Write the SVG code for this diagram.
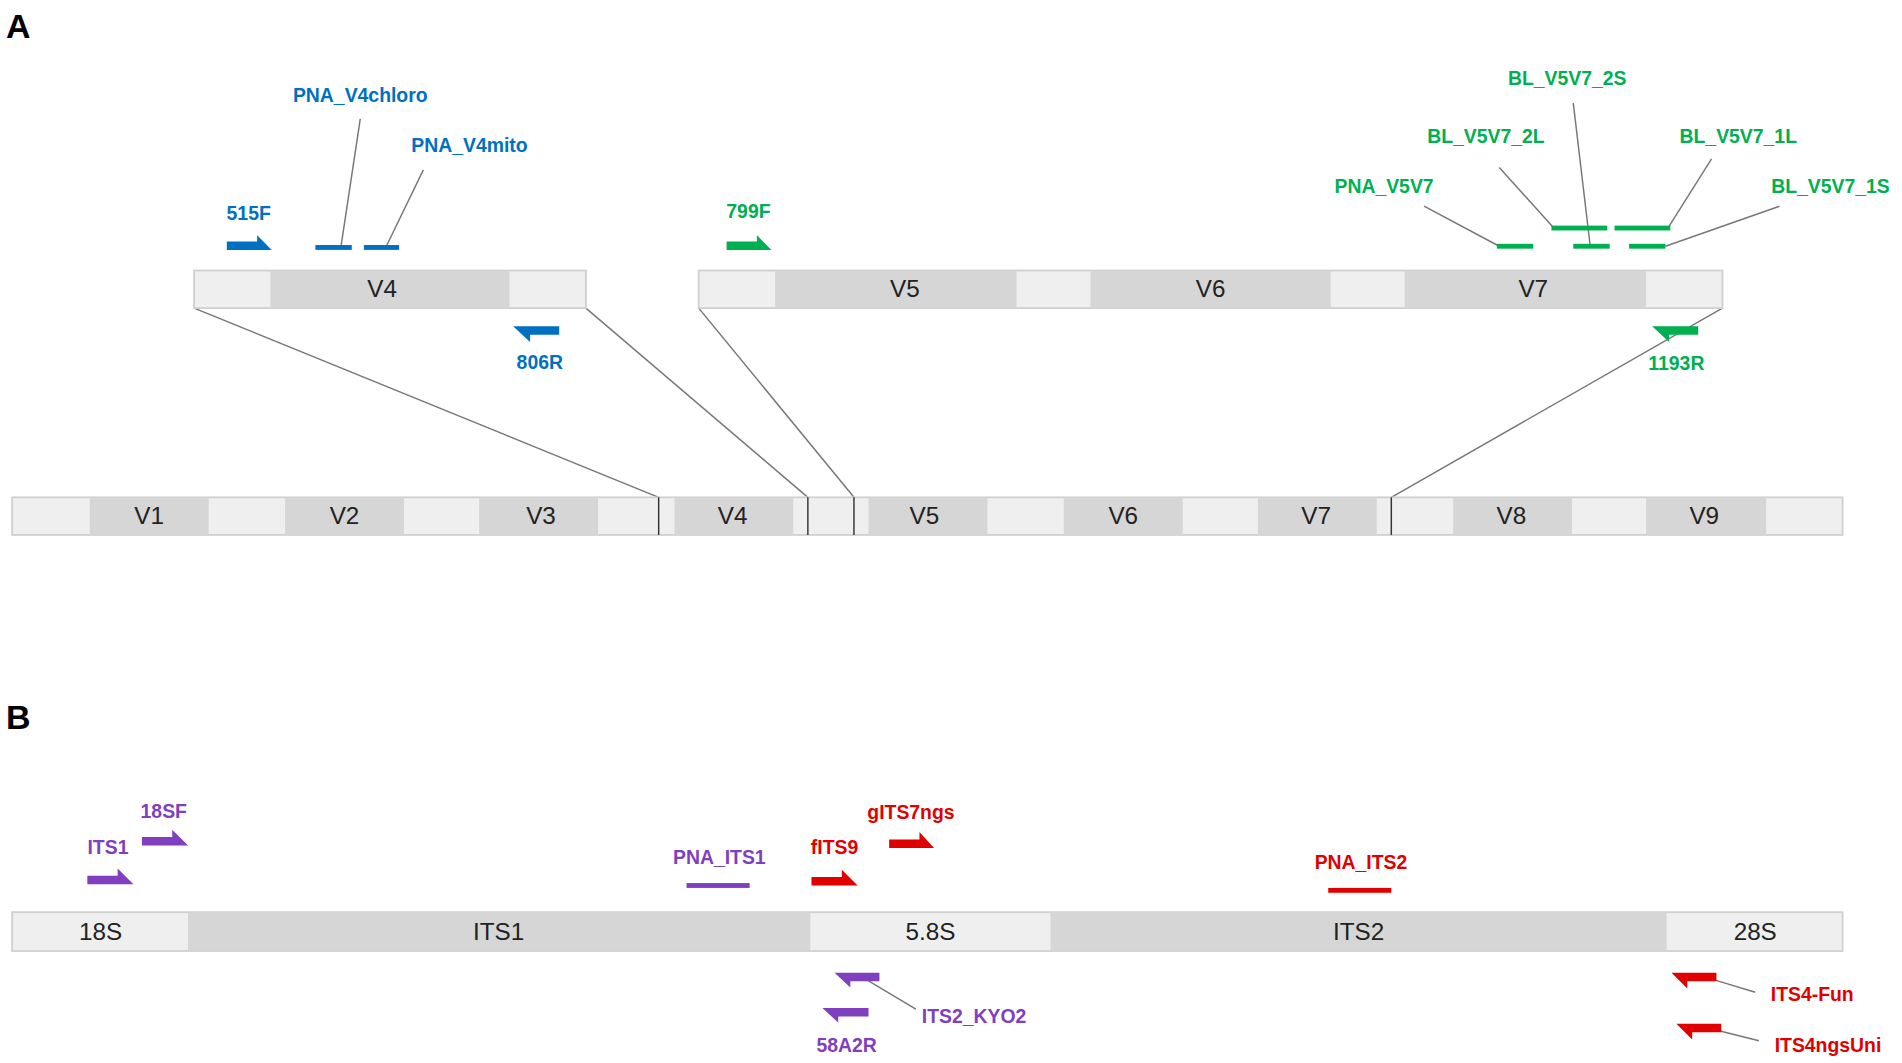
<svg xmlns="http://www.w3.org/2000/svg" width="1902" height="1063" viewBox="0 0 1902 1063">
<style>
.lt{fill:#efefef;stroke:#d0d0d0;stroke-width:1.5}
.dk{fill:#d6d6d6}
.rl{font-family:"Liberation Sans",Arial,sans-serif;font-size:20px;fill:#222;text-anchor:middle}
.pl{font-family:"Liberation Sans",Arial,sans-serif;font-size:16px;font-weight:bold;text-anchor:middle}
.ln{stroke:#777;stroke-width:1.2;fill:none}
.bk{stroke:#333;stroke-width:1.2}
.b{fill:#0070c0}.g{fill:#00b050}.p{fill:#7f3fbf}.r{fill:#e00000}
</style>
<rect width="1902" height="1063" fill="#fff"/>
<g transform="scale(1.21301)">
<text x="5" y="31" font-family="Liberation Sans,Arial,sans-serif" font-size="28" font-weight="bold">A</text>
<text x="5" y="601" font-family="Liberation Sans,Arial,sans-serif" font-size="28" font-weight="bold">B</text>
<g id="connectors">
<line class="ln" x1="160" y1="254" x2="543" y2="410"/>
<line class="ln" x1="483" y1="254" x2="666" y2="410"/>
<line class="ln" x1="576" y1="254" x2="704" y2="410"/>
<line class="ln" x1="1420" y1="254" x2="1147" y2="410"/>
<line class="ln" x1="281" y1="204" x2="297" y2="98"/>
<line class="ln" x1="318" y1="204" x2="349" y2="140"/>
<line class="ln" x1="1236" y1="203" x2="1174" y2="170"/>
<line class="ln" x1="1281" y1="188" x2="1236" y2="138"/>
<line class="ln" x1="1311" y1="203" x2="1297" y2="85"/>
<line class="ln" x1="1375" y1="188" x2="1411" y2="131"/>
<line class="ln" x1="1373" y1="203" x2="1467" y2="170"/>
<line class="ln" x1="715" y1="808" x2="755" y2="832"/>
<line class="ln" x1="1414" y1="808" x2="1447" y2="818"/>
<line class="ln" x1="1418" y1="850" x2="1450" y2="858"/>
</g>
<g id="zoomV4">
<rect class="lt" x="160" y="223" width="323" height="31"/>
<rect class="dk" x="223" y="223" width="197" height="31"/>
<text class="rl" x="315" y="245">V4</text>
</g>
<g id="zoomV5V7">
<rect class="lt" x="576" y="223" width="844" height="31"/>
<rect class="dk" x="639" y="223" width="199" height="31"/>
<rect class="dk" x="899" y="223" width="198" height="31"/>
<rect class="dk" x="1158" y="223" width="199" height="31"/>
<text class="rl" x="746" y="245">V5</text>
<text class="rl" x="998" y="245">V6</text>
<text class="rl" x="1264" y="245">V7</text>
</g>
<g id="rRNA16S">
<rect class="lt" x="10" y="410" width="1509" height="31"/>
<rect class="dk" x="74" y="410" width="98" height="31"/>
<rect class="dk" x="235" y="410" width="98" height="31"/>
<rect class="dk" x="395" y="410" width="98" height="31"/>
<rect class="dk" x="556" y="410" width="98" height="31"/>
<rect class="dk" x="716" y="410" width="98" height="31"/>
<rect class="dk" x="877" y="410" width="98" height="31"/>
<rect class="dk" x="1037" y="410" width="98" height="31"/>
<rect class="dk" x="1198" y="410" width="98" height="31"/>
<rect class="dk" x="1357" y="410" width="99" height="31"/>
<line class="bk" x1="543" y1="410" x2="543" y2="441"/>
<line class="bk" x1="666" y1="410" x2="666" y2="441"/>
<line class="bk" x1="704" y1="410" x2="704" y2="441"/>
<line class="bk" x1="1147" y1="410" x2="1147" y2="441"/>
<text class="rl" x="123" y="432">V1</text>
<text class="rl" x="284" y="432">V2</text>
<text class="rl" x="446" y="432">V3</text>
<text class="rl" x="604" y="432">V4</text>
<text class="rl" x="762" y="432">V5</text>
<text class="rl" x="926" y="432">V6</text>
<text class="rl" x="1085" y="432">V7</text>
<text class="rl" x="1246" y="432">V8</text>
<text class="rl" x="1405" y="432">V9</text>
</g>
<g id="primersA">
<polygon class="b" points="187,199 212,199 212,194 224,206 187,206"/>
<text class="pl b" x="205" y="181">515F</text>
<rect class="b" x="260" y="202" width="30" height="4"/>
<text class="pl b" x="297" y="84">PNA_V4chloro</text>
<rect class="b" x="300" y="202" width="29" height="4"/>
<text class="pl b" x="387" y="125">PNA_V4mito</text>
<polygon class="b" points="461,269 423,269 437,282 437,276 461,276"/>
<text class="pl b" x="445" y="304">806R</text>
<polygon class="g" points="599,199 624,199 624,194 636,206 599,206"/>
<text class="pl g" x="617" y="180">799F</text>
<rect class="g" x="1234" y="201" width="30" height="4"/>
<text class="pl g" x="1141" y="159">PNA_V5V7</text>
<rect class="g" x="1279" y="186" width="46" height="4"/>
<text class="pl g" x="1225" y="118">BL_V5V7_2L</text>
<rect class="g" x="1297" y="201" width="30" height="4"/>
<text class="pl g" x="1292" y="70">BL_V5V7_2S</text>
<rect class="g" x="1331" y="186" width="46" height="4"/>
<text class="pl g" x="1433" y="118">BL_V5V7_1L</text>
<rect class="g" x="1343" y="201" width="30" height="4"/>
<text class="pl g" x="1509" y="159">BL_V5V7_1S</text>
<polygon class="g" points="1400,269 1362,269 1376,282 1376,276 1400,276"/>
<text class="pl g" x="1382" y="305">1193R</text>
</g>
<g id="rDNA">
<rect class="lt" x="10" y="752" width="1509" height="32"/>
<rect class="dk" x="155" y="752" width="513" height="32"/>
<rect class="dk" x="866" y="752" width="508" height="32"/>
<text class="rl" x="83" y="775">18S</text>
<text class="rl" x="411" y="775">ITS1</text>
<text class="rl" x="767" y="775">5.8S</text>
<text class="rl" x="1120" y="775">ITS2</text>
<text class="rl" x="1447" y="775">28S</text>
</g>
<g id="primersB">
<polygon class="p" points="72,722 97,722 97,716 110,729 72,729"/>
<text class="pl p" x="89" y="704">ITS1</text>
<polygon class="p" points="117,690 142,690 142,684 155,697 117,697"/>
<text class="pl p" x="135" y="674">18SF</text>
<rect class="p" x="566" y="728" width="52" height="4"/>
<text class="pl p" x="593" y="712">PNA_ITS1</text>
<polygon class="r" points="669,723 694,723 694,717 707,730 669,730"/>
<text class="pl r" x="688" y="704">fITS9</text>
<polygon class="r" points="733,692 758,692 758,686 770,699 733,699"/>
<text class="pl r" x="751" y="675">gITS7ngs</text>
<rect class="r" x="1095" y="732" width="52" height="4"/>
<text class="pl r" x="1122" y="716">PNA_ITS2</text>
<polygon class="p" points="725,802 688,802 701,814 701,809 725,809"/>
<text class="pl p" x="803" y="843">ITS2_KYO2</text>
<polygon class="p" points="716,831 678,831 691,843 691,838 716,838"/>
<text class="pl p" x="698" y="867">58A2R</text>
<polygon class="r" points="1415,802 1378,802 1391,815 1391,809 1415,809"/>
<text class="pl r" x="1494" y="825">ITS4-Fun</text>
<polygon class="r" points="1419,844 1382,844 1395,857 1395,851 1419,851"/>
<text class="pl r" x="1507" y="867">ITS4ngsUni</text>
</g>
</g>
</svg>
